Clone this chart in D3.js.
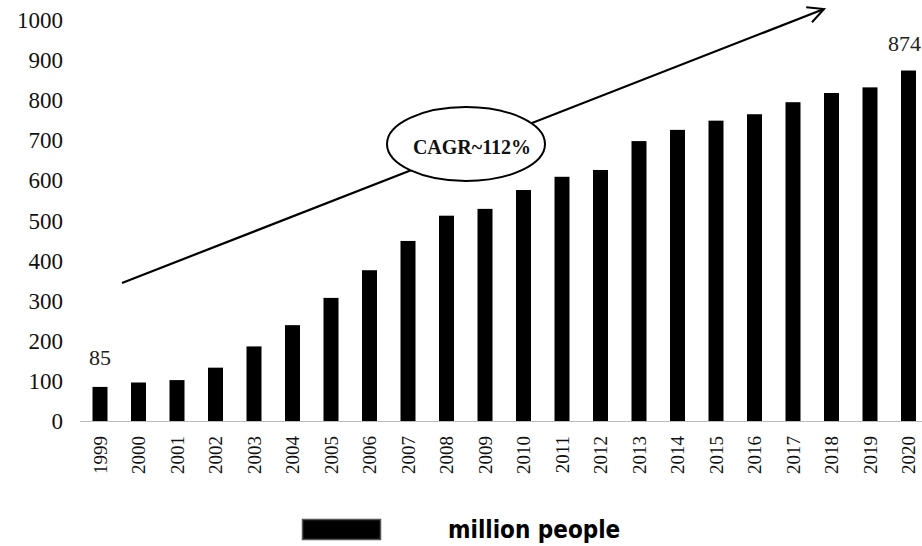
<!DOCTYPE html>
<html><head><meta charset="utf-8">
<script src="https://cdn.jsdelivr.net/npm/d3@7"></script>
<style>body{margin:0;background:#fff;} svg{display:block;}</style>
</head><body>
<svg id="chart" width="922" height="546"></svg>
<script>
const years = ["1999","2000","2001","2002","2003","2004","2005","2006","2007","2008","2009","2010","2011","2012","2013","2014","2015","2016","2017","2018","2019","2020"];
const values = [85,96,102,133,186,239,307,376,449,512,529,576,609,626,698,726,749,765,795,818,832,874];
const yTicks = [0,100,200,300,400,500,600,700,800,900,1000];
const labeledIdx = [0, 21];
const cagrText = "CAGR~112%";
const legendText = "million people";

const svg = d3.select("#chart");
const x = d3.scaleBand().domain(years).range([80.75, 927.75]).paddingInner(0.6).paddingOuter(0.3);
const y = d3.scaleLinear().domain([0, 1000]).range([421, 20]);

// y tick labels
svg.append("g").selectAll("text").data(yTicks).join("text")
  .attr("x", 63).attr("y", d => y(d)).attr("dy", "0.35em")
  .attr("text-anchor", "end")
  .attr("font-family", "Liberation Serif").attr("font-size", 23).attr("fill", "#111")
  .text(d => d);

// baseline
svg.append("line").attr("x1", 80).attr("x2", 922).attr("y1", y(0)+0.5).attr("y2", y(0)+0.5)
  .attr("stroke", "#bbb").attr("stroke-width", 1.2);

// bars
const bw = 15;
svg.append("g").selectAll("rect").data(years).join("rect")
  .attr("x", d => x(d) + x.bandwidth()/2 - bw/2)
  .attr("width", bw)
  .attr("y", (d,i) => y(values[i]))
  .attr("height", (d,i) => y(0) - y(values[i]))
  .attr("fill", "#000");

// x labels
svg.append("g").selectAll("text").data(years).join("text")
  .attr("transform", d => `translate(${x(d) + x.bandwidth()/2},436) rotate(-90)`)
  .attr("dy", "0.35em")
  .attr("text-anchor", "end")
  .attr("font-family", "Liberation Serif").attr("font-size", 19).attr("fill", "#111")
  .text(d => d);

// value labels
svg.append("g").selectAll("text").data(labeledIdx).join("text")
  .attr("x", i => x(years[i]) + x.bandwidth()/2 + (i === 21 ? -4 : 0))
  .attr("y", i => i === 21 ? 51 : 365)
  .attr("text-anchor", "middle")
  .attr("font-family", "Liberation Serif").attr("font-size", 22).attr("fill", "#222")
  .text(i => values[i]);

// arrow
const defs = svg.append("defs");
defs.append("marker").attr("id", "arr").attr("viewBox", "0 0 20 20")
  .attr("refX", 18).attr("refY", 10).attr("markerWidth", 20).attr("markerHeight", 20)
  .attr("markerUnits", "userSpaceOnUse").attr("orient", "auto")
  .append("path").attr("d", "M2,2 L18,10 L2,18").attr("fill", "none")
  .attr("stroke", "#000").attr("stroke-width", 2);

svg.append("line").attr("x1", 122).attr("y1", 283).attr("x2", 824).attr("y2", 9)
  .attr("stroke", "#000").attr("stroke-width", 2.2).attr("marker-end", "url(#arr)");

// ellipse with CAGR
svg.append("ellipse").attr("cx", 466).attr("cy", 144).attr("rx", 79).attr("ry", 37)
  .attr("fill", "#fff").attr("stroke", "#000").attr("stroke-width", 2);
svg.append("text").attr("x", 472).attr("y", 147).attr("dy", "0.35em")
  .attr("text-anchor", "middle")
  .attr("font-family", "Liberation Serif").attr("font-weight", "bold").attr("font-size", 20).attr("fill", "#111")
  .text(cagrText);

// legend
svg.append("rect").attr("x", 302.5).attr("y", 519.5).attr("width", 78).attr("height", 20)
  .attr("fill", "#000").attr("stroke", "#555").attr("stroke-width", 1.5);
svg.append("text").attr("x", 448).attr("y", 538)
  .attr("font-family", "DejaVu Sans Condensed, DejaVu Sans").attr("font-stretch", "condensed")
  .attr("font-weight", "bold").attr("font-size", 24).attr("fill", "#000")
  .text(legendText);
</script>
</body></html>
